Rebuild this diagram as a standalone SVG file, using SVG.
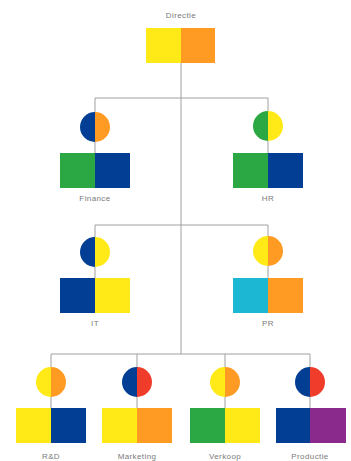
<svg xmlns="http://www.w3.org/2000/svg" width="351" height="461" viewBox="0 0 351 461">
<style>
.ln{stroke:#a0a0a0;stroke-width:1;fill:none}
.lb{font-family:"Liberation Sans",Arial,sans-serif;font-size:8px;fill:#7a7a7a;text-anchor:middle;letter-spacing:0.4px}
.y{fill:#FFE916}.o{fill:#FF9A22}.g{fill:#2BA843}.b{fill:#023E93}.c{fill:#1CB7D3}.r{fill:#EF3C2B}.p{fill:#892A8C}
</style>
<rect width="351" height="461" fill="#fff"/>
<g id="connectors">
<path class="ln" d="M181 63V354M95 98H268M95 98V153M268 98V153M95 225H268M95 225V278M268 225V278M51 354H310M51 354V408M137 354V408M225 354V408M310 354V408"/>
</g>
<g id="directie">
<text class="lb" x="181" y="18">Directie</text>
<rect class="y" x="146" y="28" width="35" height="35"/>
<rect class="o" x="181" y="28" width="34" height="35"/>
</g>
<g id="finance">
<path class="b" d="M95 112A15 15 0 0 0 95 142Z"/>
<path class="o" d="M95 112A15 15 0 0 1 95 142Z"/>
<rect class="g" x="60" y="153" width="35" height="35"/>
<rect class="b" x="95" y="153" width="35" height="35"/>
<text class="lb" x="95" y="201">Finance</text>
</g>
<g id="hr">
<path class="g" d="M268 111A15 15 0 0 0 268 141Z"/>
<path class="y" d="M268 111A15 15 0 0 1 268 141Z"/>
<rect class="g" x="233" y="153" width="35" height="35"/>
<rect class="b" x="268" y="153" width="35" height="35"/>
<text class="lb" x="268" y="201">HR</text>
</g>
<g id="it">
<path class="b" d="M95 237A15 15 0 0 0 95 267Z"/>
<path class="y" d="M95 237A15 15 0 0 1 95 267Z"/>
<rect class="b" x="60" y="278" width="35" height="35"/>
<rect class="y" x="95" y="278" width="35" height="35"/>
<text class="lb" x="95" y="326">IT</text>
</g>
<g id="pr">
<path class="y" d="M268 236A15 15 0 0 0 268 266Z"/>
<path class="o" d="M268 236A15 15 0 0 1 268 266Z"/>
<rect class="c" x="233" y="278" width="35" height="35"/>
<rect class="o" x="268" y="278" width="35" height="35"/>
<text class="lb" x="268" y="326">PR</text>
</g>
<g id="rd">
<path class="y" d="M51 367A15 15 0 0 0 51 397Z"/>
<path class="o" d="M51 367A15 15 0 0 1 51 397Z"/>
<rect class="y" x="16" y="408" width="35" height="35"/>
<rect class="b" x="51" y="408" width="35" height="35"/>
<text class="lb" x="51" y="459">R&amp;D</text>
</g>
<g id="marketing">
<path class="b" d="M137 367A15 15 0 0 0 137 397Z"/>
<path class="r" d="M137 367A15 15 0 0 1 137 397Z"/>
<rect class="y" x="102" y="408" width="35" height="35"/>
<rect class="o" x="137" y="408" width="35" height="35"/>
<text class="lb" x="137" y="459">Marketing</text>
</g>
<g id="verkoop">
<path class="y" d="M225 367A15 15 0 0 0 225 397Z"/>
<path class="o" d="M225 367A15 15 0 0 1 225 397Z"/>
<rect class="g" x="190" y="408" width="35" height="35"/>
<rect class="y" x="225" y="408" width="35" height="35"/>
<text class="lb" x="225" y="459">Verkoop</text>
</g>
<g id="productie">
<path class="b" d="M310 367A15 15 0 0 0 310 397Z"/>
<path class="r" d="M310 367A15 15 0 0 1 310 397Z"/>
<rect class="b" x="276" y="408" width="34" height="35"/>
<rect class="p" x="310" y="408" width="36" height="35"/>
<text class="lb" x="310" y="459">Productie</text>
</g>
</svg>
